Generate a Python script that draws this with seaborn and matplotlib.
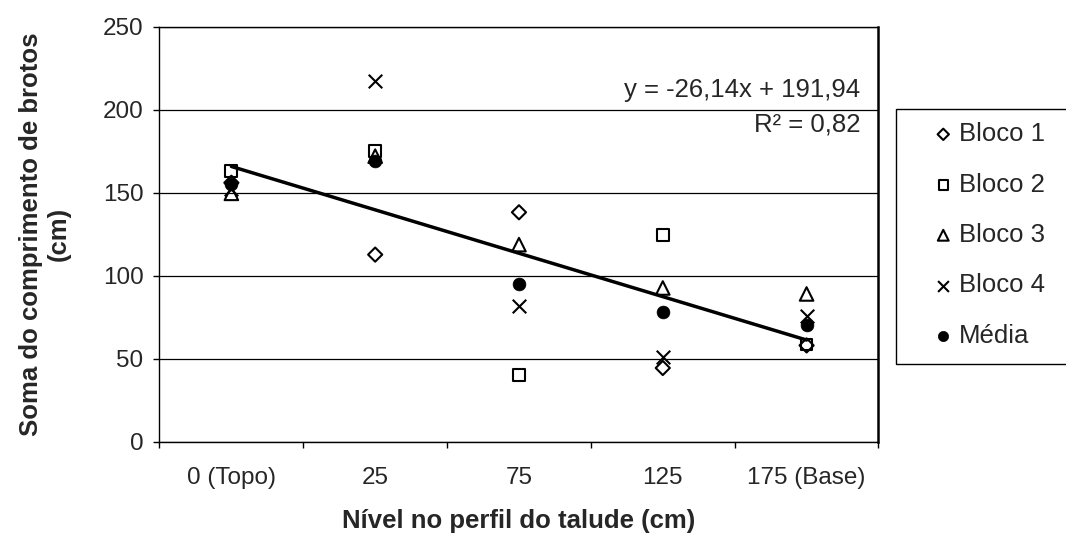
import numpy as np
import pandas as pd
import matplotlib
matplotlib.use("Agg")
import matplotlib.pyplot as plt
import matplotlib.transforms as mtransforms
from matplotlib.patches import Rectangle
import seaborn as sns

# Categories along the slope profile
niveis = ["0 (Topo)", "25", "75", "125", "175 (Base)"]

# Sum of shoot length (cm) per block and level
bloco1 = [156.0, 112.7, 138.2, 44.4, 58.0]
bloco2 = [163.3, 174.9, 40.2, 124.7, 58.5]
bloco3 = [149.6, 172.0, 118.7, 92.6, 89.0]
bloco4 = [152.0, 217.5, 81.5, 50.8, 75.9]
media = [155.2, 169.3, 94.7, 78.1, 70.3]

# Linear trend of the mean
inclinacao = -26.14
intercepto = 191.94
r2 = 0.82

sns.set_theme(style="white")
plt.rcParams["font.family"] = ["Liberation Sans", "DejaVu Sans"]
FS = 17.5
FS_TEXTO = 18.5
FS_TITULO = 18.5

pos = np.arange(1, len(niveis) + 1)
series = {
    "Bloco 1": bloco1,
    "Bloco 2": bloco2,
    "Bloco 3": bloco3,
    "Bloco 4": bloco4,
    "Média": media,
}
df = pd.concat(
    [pd.DataFrame({"pos": pos, "valor": v, "serie": k}) for k, v in series.items()],
    ignore_index=True,
)

estilos = {
    "Bloco 1": dict(marker="D", s=52, facecolors="none", edgecolors="black", linewidths=1.5),
    "Bloco 2": dict(marker="s", s=72, facecolors="none", edgecolors="black", linewidths=1.5),
    "Bloco 3": dict(marker="^", s=95, facecolors="none", edgecolors="black", linewidths=1.5),
    "Bloco 4": dict(marker="x", s=95, color="black", linewidths=1.5),
    "Média": dict(marker="o", s=85, color="black", edgecolors="black", linewidths=0.5),
}

fig = plt.figure(figsize=(10.66, 5.38), dpi=100)
fig.patch.set_facecolor("white")
ax = fig.add_axes([0.1496, 0.1790, 0.6745, 0.7714])

# Horizontal gridlines
ax.set_axisbelow(True)
ax.yaxis.grid(True, color="black", linewidth=0.9)
ax.xaxis.grid(False)

for nome, kw in estilos.items():
    sub = df[df["serie"] == nome]
    sns.scatterplot(data=sub, x="pos", y="valor", ax=ax, label=nome, zorder=3, **kw)

# Trend line drawn from the fitted equation
tend = pd.DataFrame({"pos": pos, "valor": inclinacao * pos + intercepto})
sns.lineplot(data=tend, x="pos", y="valor", ax=ax, color="black", linewidth=2.5,
             zorder=4, legend=False)

ax.set_xlim(0.5, len(niveis) + 0.5)
ax.set_ylim(0, 250)
ax.set_yticks(np.arange(0, 251, 50))
ax.set_xticks(pos)
ax.set_xticklabels(niveis)
ax.set_xticks(np.arange(0.5, len(niveis) + 1, 1.0), minor=True)

ax.tick_params(axis="y", which="major", direction="out", length=4.5, width=1,
               color="black", labelsize=FS, pad=7, left=True)
ax.tick_params(axis="x", which="major", length=0, labelsize=FS, pad=18)
ax.tick_params(axis="x", which="minor", direction="out", length=4.5, width=1,
               color="black", bottom=True)

for lado, sp in ax.spines.items():
    sp.set_visible(True)
    sp.set_color("black")
    sp.set_linewidth(1.0)
ax.spines["right"].set_linewidth(1.8)

ax.set_xlabel("Nível no perfil do talude (cm)", fontsize=FS_TITULO, fontweight="bold")
ax.set_ylabel("Soma do comprimento de brotos\n(cm)", fontsize=FS_TITULO, fontweight="bold",
              linespacing=1.2)
ax.xaxis.set_label_coords(0.5, -0.191)
ax.xaxis.label.set_verticalalignment("center")
ax.yaxis.set_label_coords(-0.160, 0.5)
ax.yaxis.label.set_verticalalignment("center")

trans = mtransforms.blended_transform_factory(ax.transAxes, ax.transData)
ax.text(0.975, 207.5, f"y = {inclinacao:.2f}x + {intercepto:.2f}".replace(".", ","),
        ha="right", va="baseline", fontsize=FS_TEXTO, transform=trans, zorder=5)
ax.text(0.975, 187.0, f"R² = {r2:.2f}".replace(".", ","),
        ha="right", va="baseline", fontsize=FS_TEXTO, transform=trans, zorder=5)

# Legend with a box running to the right edge
handles, labels = ax.get_legend_handles_labels()
if ax.get_legend() is not None:
    ax.get_legend().remove()
fig.patches.append(Rectangle((0.8405, 0.3234), 0.2, 0.4740, transform=fig.transFigure,
                             facecolor="white", edgecolor="black", linewidth=1.0,
                             clip_on=False, zorder=0))
fig.legend(handles, labels, loc="center left", bbox_to_anchor=(0.8757, 0.5632),
           frameon=False, borderpad=0, borderaxespad=0, handlelength=0.76,
           handletextpad=0.22, labelspacing=1.03, fontsize=FS_TEXTO, markerscale=0.8)

fig.savefig("out.png", dpi=100, facecolor="white")
